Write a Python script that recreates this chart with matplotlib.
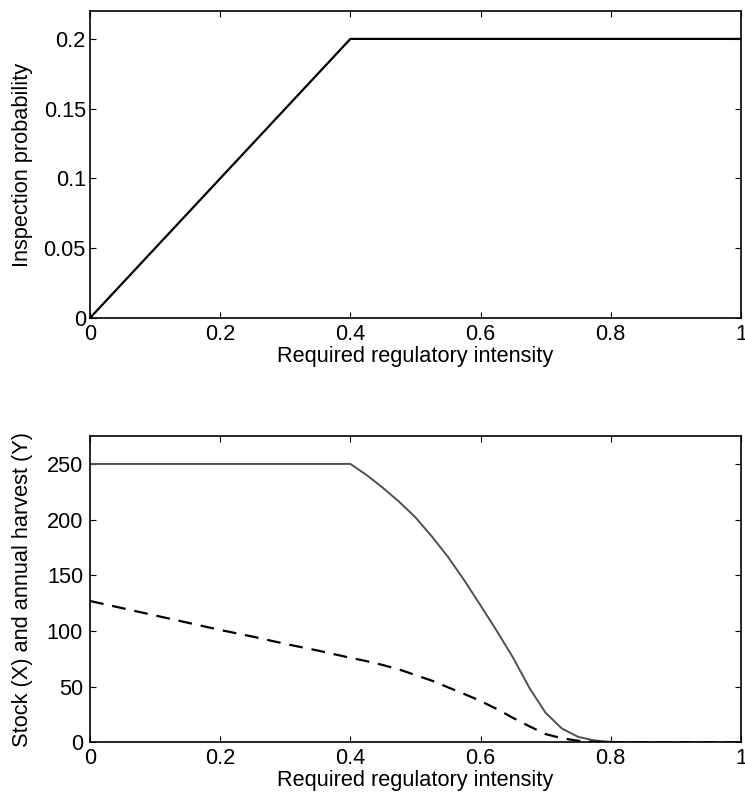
import matplotlib
matplotlib.use("Agg")
import matplotlib.pyplot as plt

plt.rcParams['font.family'] = ['Liberation Sans', 'DejaVu Sans']

# Top panel data
top_x = [0.0, 0.4, 1.0]
top_y = [0.0, 0.2, 0.2]

# Bottom panel data
x_vals = [0.0, 0.05, 0.1, 0.15, 0.2, 0.25, 0.3, 0.35, 0.4, 0.425, 0.45, 0.475, 0.5,
          0.525, 0.55, 0.575, 0.6, 0.625, 0.65, 0.675, 0.7, 0.725, 0.75, 0.775,
          0.8, 0.825, 0.85, 0.9, 0.95, 1.0]
stock = [250, 250, 250, 250, 250, 250, 250, 250, 250, 240, 228.5, 216, 202,
         185, 166.5, 145.5, 123, 100, 76, 49, 26.5, 12.5, 5, 1.8,
         0.6, 0.2, 0, 0, 0, 0]
harvest = [127, 120.5, 114, 107.5, 101, 95, 88.5, 82.5, 76, 73, 69.5, 65.5, 60.5,
           55.5, 49.5, 43.5, 37.2, 30, 22, 14.5, 7.5, 3.8, 1.5, 0.6,
           0.2, 0.05, 0, 0, 0, 0]

x_ticks = [0, 0.2, 0.4, 0.6, 0.8, 1]
x_ticklabels = ['0', '0.2', '0.4', '0.6', '0.8', '1']
top_yticks = [0, 0.05, 0.1, 0.15, 0.2]
top_yticklabels = ['0', '0.05', '0.1', '0.15', '0.2']
bot_yticks = [0, 50, 100, 150, 200, 250]
bot_yticklabels = ['0', '50', '100', '150', '200', '250']

fig = plt.figure(figsize=(7.45, 8), dpi=100)
ax1 = fig.add_axes([0.1208, 0.6025, 0.8738, 0.38375])
ax2 = fig.add_axes([0.1208, 0.0719, 0.8738, 0.383])

FS = 15.7

def style(ax, ypad):
    ax.tick_params(direction='in', top=True, right=True, length=4.3, width=0.8,
                   labelsize=FS)
    ax.tick_params(axis='x', pad=4)
    ax.tick_params(axis='y', pad=ypad)
    for s in ax.spines.values():
        s.set_linewidth(1.2)
    ax.set_xticks(x_ticks)
    ax.set_xticklabels(x_ticklabels)
    ax.set_xlim(0, 1)

ax1.plot(top_x, top_y, color='black', lw=1.6)
style(ax1, 3)
ax1.set_ylim(0, 0.22)
ax1.set_yticks(top_yticks)
ax1.set_yticklabels(top_yticklabels)
ax1.set_xlabel('Required regulatory intensity', fontsize=FS, labelpad=1)
ax1.set_ylabel('Inspection probability', fontsize=FS)
ax1.yaxis.set_label_coords(-0.088, 0.5)

ax2.plot(x_vals, stock, color='#505050', lw=1.4)
ax2.plot(x_vals, harvest, color='black', lw=1.6, linestyle=(0, (6.2, 4.0)))
style(ax2, 5)
ax2.set_ylim(0, 275)
ax2.set_yticks(bot_yticks)
ax2.set_yticklabels(bot_yticklabels)
ax2.set_xlabel('Required regulatory intensity', fontsize=FS, labelpad=1)
ax2.set_ylabel('Stock (X) and annual harvest (Y)', fontsize=FS)
ax2.yaxis.set_label_coords(-0.088, 0.5)

fig.savefig('out.png', dpi=100)
